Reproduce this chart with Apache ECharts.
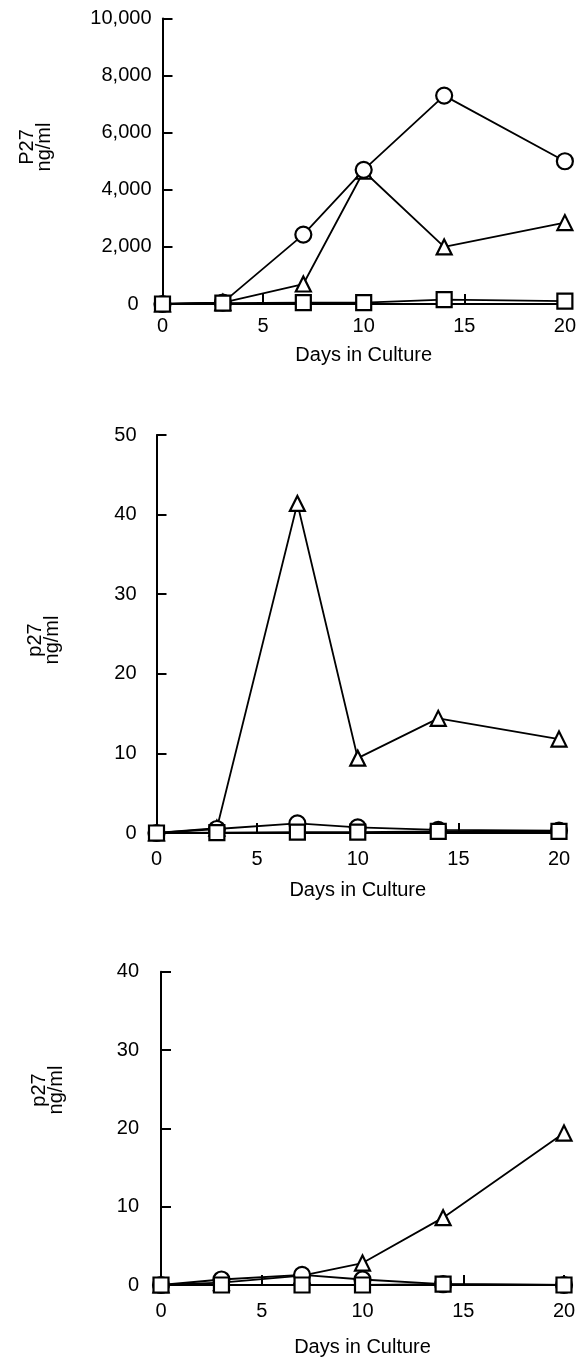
<!DOCTYPE html>
<html>
<head>
<meta charset="utf-8">
<script src="https://cdn.jsdelivr.net/npm/echarts@6/dist/echarts.min.js"></script>
<style>
html,body{margin:0;padding:0;background:#fff;}
#c{width:579px;height:1358px;}
</style>
</head>
<body>
<div id="c"></div>
<script>
// ---- data ----
const days = [0, 3, 7, 10, 14, 20];
const xTicks = [0, 5, 10, 15, 20];

// Panel 1 (P27 ng/ml)
const p1Triangle = [0, 50, 700, 4650, 2000, 2850];
const p1Circle   = [0, 50, 2430, 4700, 7300, 5000];
const p1Square   = [0, 30, 50, 50, 150, 100];

// Panel 2 (p27 ng/ml)
const p2Triangle = [0, 0.6, 41.4, 9.4, 14.4, 11.8];
const p2Circle   = [0, 0.5, 1.2, 0.7, 0.4, 0.3];
const p2Square   = [0, 0.05, 0.1, 0.1, 0.2, 0.2];

// Panel 3 (p27 ng/ml)
const p3Triangle = [0, 0.3, 1.2, 2.8, 8.6, 19.4];
const p3Circle   = [0, 0.7, 1.3, 0.7, 0.1, 0];
const p3Square   = [0, 0, 0, 0, 0.1, 0];

const yTitles = ['P27\nng/ml', 'p27\nng/ml', 'p27\nng/ml'];
const xTitle = 'Days in Culture';

// ---- chart ----
const FONT = 'Liberation Sans, Arial, Helvetica, sans-serif';
const chart = echarts.init(document.getElementById('c'), null, {renderer: 'canvas'});

const panels = [
  {left: 162.5, top: 18.5, width: 404.5, height: 285.5, max: 10000, interval: 2000,
   tri: p1Triangle, cir: p1Circle, sq: p1Square, yMargin: 11, zeroPad: 13, xMargin: 12, nameGap: 41,
   titleX: 36, titleY: 147},
  {left: 156.5, top: 435, width: 402.5, height: 398, max: 50, interval: 10,
   tri: p2Triangle, cir: p2Circle, sq: p2Square, yMargin: 20, zeroPad: 0, xMargin: 16, nameGap: 47,
   titleX: 44, titleY: 640},
  {left: 161, top: 971.7, width: 403, height: 322.3, max: 40, interval: 10,
   tri: p3Triangle, cir: p3Circle, sq: p3Square, yMargin: 22, zeroPad: 0, xMargin: 16, nameGap: 52,
   titleX: 48, titleY: 1090}
];

const grid = [], xAxis = [], yAxis = [], series = [], graphic = [];
const axisLineStyle = {color: '#000', width: 2};
const labelStyle = {color: '#000', fontSize: 20, fontFamily: FONT};

panels.forEach((p, i) => {
  grid.push({left: p.left, top: p.top, width: p.width, height: p.height});
  xAxis.push({
    gridIndex: i, type: 'value', min: 0, max: 20, interval: 5,
    axisLine: {show: true, lineStyle: axisLineStyle},
    axisTick: {show: true, inside: true, length: 10, lineStyle: axisLineStyle},
    splitLine: {show: false},
    axisLabel: Object.assign({margin: p.xMargin}, labelStyle),
    name: xTitle, nameLocation: 'middle', nameGap: p.nameGap,
    nameTextStyle: labelStyle
  });
  yAxis.push({
    gridIndex: i, type: 'value', min: 0, max: p.max, interval: p.interval,
    axisLine: {show: true, lineStyle: axisLineStyle},
    axisTick: {show: true, inside: true, length: 10, lineStyle: axisLineStyle},
    splitLine: {show: false},
    axisLabel: Object.assign({
      margin: p.yMargin,
      formatter: v => v === 0 ? '{z|0}' : v.toLocaleString('en-US'),
      rich: {z: {fontSize: 20, fontFamily: FONT, color: '#000', padding: [0, p.zeroPad, 0, 0]}}
    }, labelStyle)
  });
  const mk = (vals, symbol, size) => ({
    type: 'line', xAxisIndex: i, yAxisIndex: i,
    data: days.map((d, k) => [d, vals[k]]),
    symbol: symbol, symbolSize: size, showAllSymbol: true,
    lineStyle: {color: '#000', width: 1.8},
    itemStyle: {color: '#fff', borderColor: '#000', borderWidth: 2.2},
    animation: false, z: 3
  });
  series.push(mk(p.tri, 'triangle', 15));
  series.push(mk(p.cir, 'circle', 16));
  series.push(mk(p.sq, 'rect', 15));
  graphic.push({
    type: 'text', x: p.titleX, y: p.titleY, rotation: Math.PI / 2,
    style: {text: yTitles[i], font: '20px ' + FONT, fill: '#000',
            align: 'center', verticalAlign: 'middle', lineHeight: 17}
  });
});

chart.setOption({
  animation: false,
  backgroundColor: '#fff',
  grid, xAxis, yAxis, series, graphic
});
</script>
</body>
</html>
